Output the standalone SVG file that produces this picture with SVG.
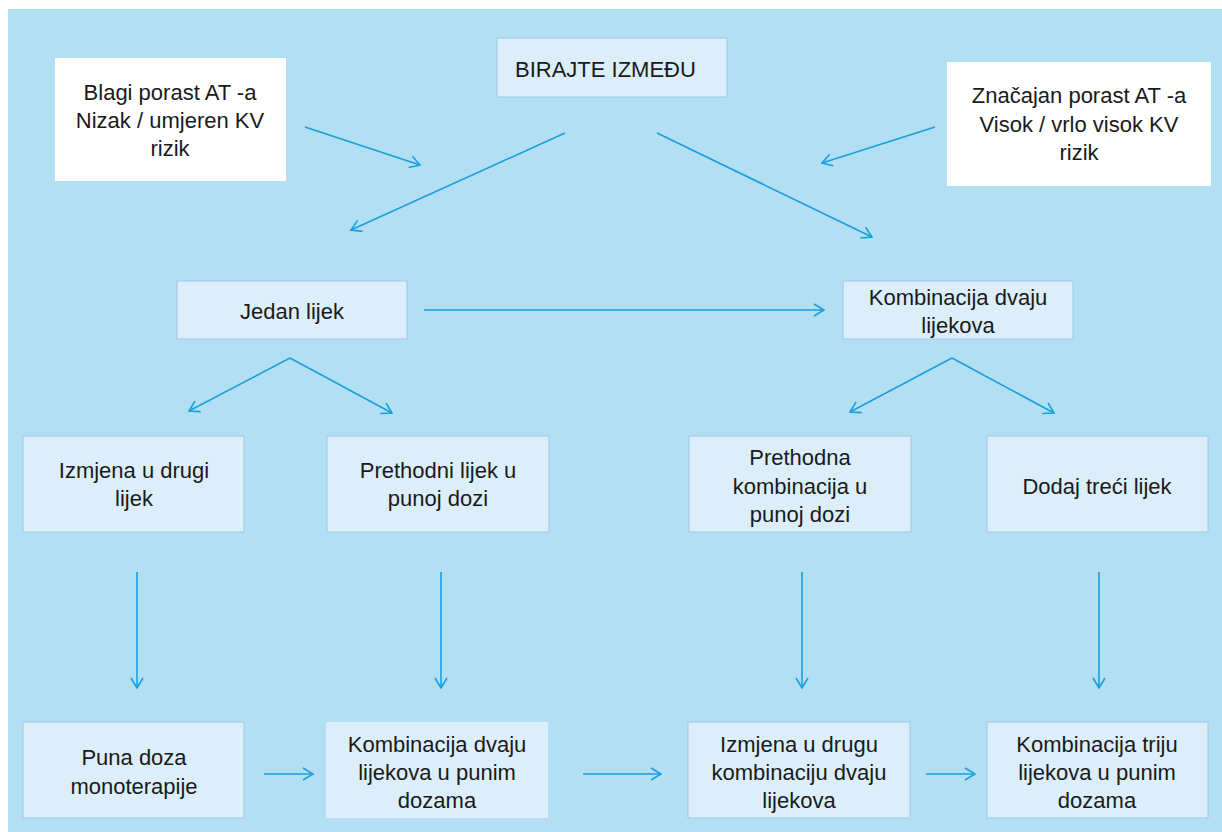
<svg xmlns="http://www.w3.org/2000/svg" width="1222" height="832" viewBox="0 0 1222 832">
  <style>
    .bg { fill: #b3dff3; }
    .box { fill: #dbeef9; stroke: #9fc8e8; stroke-width: 1; }
    .plain { fill: #dbeef9; }
    .white { fill: #ffffff; }
    .lbl { font-family: "Liberation Sans", Arial, sans-serif; font-size: 22px; fill: #1a1a1a; text-anchor: middle; }
    .conn { stroke: #1a9fdf; stroke-width: 1.6; fill: none; marker-end: url(#arr); }
  </style>
  <defs>
    <marker id="arr" markerUnits="userSpaceOnUse" markerWidth="14" markerHeight="14" refX="12" refY="7" orient="auto">
      <path d="M2,1 L12,7 L2,13" fill="none" stroke="#1a9fdf" stroke-width="1.6"/>
    </marker>
  </defs>

  <rect x="0" y="0" width="1222" height="832" fill="#ffffff"/>
  <rect class="bg" x="8" y="9" width="1214" height="823"/>

  <g id="connectors">
    <line class="conn" x1="305" y1="127" x2="420" y2="165"/>
    <line class="conn" x1="935" y1="127" x2="822" y2="163"/>
    <line class="conn" x1="565" y1="133" x2="351" y2="230"/>
    <line class="conn" x1="657" y1="133" x2="872" y2="237"/>
    <line class="conn" x1="424" y1="310" x2="824" y2="310"/>
    <line class="conn" x1="290" y1="358" x2="189" y2="411"/>
    <line class="conn" x1="290" y1="358" x2="392" y2="413"/>
    <line class="conn" x1="952" y1="358" x2="850" y2="412"/>
    <line class="conn" x1="952" y1="358" x2="1054" y2="413"/>
    <line class="conn" x1="137" y1="572" x2="137" y2="688"/>
    <line class="conn" x1="441" y1="572" x2="441" y2="688"/>
    <line class="conn" x1="802" y1="572" x2="802" y2="688"/>
    <line class="conn" x1="1099" y1="572" x2="1099" y2="688"/>
    <line class="conn" x1="264" y1="774" x2="313" y2="774"/>
    <line class="conn" x1="583" y1="774" x2="661" y2="774"/>
    <line class="conn" x1="926" y1="774" x2="975" y2="774"/>
  </g>

  <g id="node-blagi">
    <rect class="white" x="55" y="58" width="231" height="123"/>
    <text class="lbl" x="170" y="100">Blagi porast AT -a</text>
    <text class="lbl" x="170" y="128">Nizak / umjeren KV</text>
    <text class="lbl" x="170" y="156">rizik</text>
  </g>

  <g id="node-birajte">
    <rect class="box" x="497" y="38" width="230" height="59"/>
    <text class="lbl" x="515" y="77" style="text-anchor:start">BIRAJTE IZMEĐU</text>
  </g>

  <g id="node-znacajan">
    <rect class="white" x="947" y="62" width="264" height="124"/>
    <text class="lbl" x="1079" y="103">Značajan porast AT -a</text>
    <text class="lbl" x="1079" y="132">Visok / vrlo visok KV</text>
    <text class="lbl" x="1079" y="160">rizik</text>
  </g>

  <g id="node-jedan">
    <rect class="box" x="177" y="281" width="230" height="58"/>
    <text class="lbl" x="292" y="319">Jedan lijek</text>
  </g>

  <g id="node-kombinacija2">
    <rect class="box" x="843" y="281" width="230" height="58"/>
    <text class="lbl" x="958" y="305">Kombinacija  dvaju</text>
    <text class="lbl" x="958" y="333">lijekova</text>
  </g>

  <g id="node-izmjena-lijek">
    <rect class="box" x="23" y="436" width="221" height="96"/>
    <text class="lbl" x="134" y="478">Izmjena u drugi</text>
    <text class="lbl" x="134" y="506">lijek</text>
  </g>

  <g id="node-prethodni">
    <rect class="box" x="327" y="436" width="222" height="96"/>
    <text class="lbl" x="438" y="478">Prethodni lijek u</text>
    <text class="lbl" x="438" y="506">punoj dozi</text>
  </g>

  <g id="node-prethodna">
    <rect class="box" x="689" y="436" width="222" height="96"/>
    <text class="lbl" x="800" y="465">Prethodna</text>
    <text class="lbl" x="800" y="494">kombinacija u</text>
    <text class="lbl" x="800" y="522">punoj dozi</text>
  </g>

  <g id="node-dodaj">
    <rect class="box" x="987" y="436" width="221" height="96"/>
    <text class="lbl" x="1097" y="494">Dodaj treći lijek</text>
  </g>

  <g id="node-puna-doza">
    <rect class="box" x="23" y="722" width="221" height="96"/>
    <text class="lbl" x="134" y="765">Puna doza</text>
    <text class="lbl" x="134" y="794">monoterapije</text>
  </g>

  <g id="node-kombinacija2-pune">
    <rect class="plain" x="326" y="722" width="222" height="96"/>
    <text class="lbl" x="437" y="752">Kombinacija  dvaju</text>
    <text class="lbl" x="437" y="780">lijekova u punim</text>
    <text class="lbl" x="437" y="808">dozama</text>
  </g>

  <g id="node-izmjena-kombinacija">
    <rect class="box" x="688" y="722" width="222" height="96"/>
    <text class="lbl" x="799" y="752">Izmjena u drugu</text>
    <text class="lbl" x="799" y="780">kombinaciju dvaju</text>
    <text class="lbl" x="799" y="808">lijekova</text>
  </g>

  <g id="node-kombinacija3">
    <rect class="box" x="987" y="722" width="221" height="96"/>
    <text class="lbl" x="1097" y="752">Kombinacija  triju</text>
    <text class="lbl" x="1097" y="780">lijekova u punim</text>
    <text class="lbl" x="1097" y="808">dozama</text>
  </g>
</svg>
